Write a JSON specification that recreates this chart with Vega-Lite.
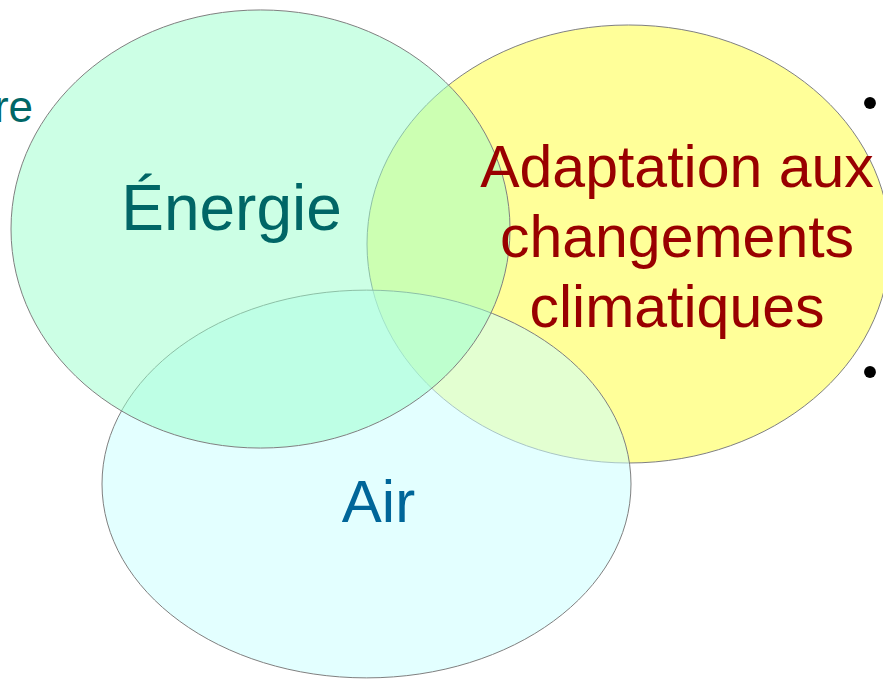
{
  "$schema": "https://vega.github.io/schema/vega-lite/v6.json",
  "width": 883,
  "height": 680,
  "autosize": {"type": "none"},
  "padding": 0,
  "background": "white",
  "config": {"view": {"stroke": null}},
  "datasets": {
    "sets": [
      {"set": "Adaptation", "cx": 628.5, "cy": 244},
      {"set": "Air", "cx": 366.5, "cy": 484},
      {"set": "Énergie", "cx": 260.5, "cy": 229}
    ],
    "labels": [
      {"set": "Énergie", "label": "Énergie", "x": 231.5, "y": 230},
      {"set": "Air", "label": "Air", "x": 378.5, "y": 522},
      {"set": "Adaptation", "label": "Adaptation aux\nchangements\nclimatiques", "x": 677, "y": 187}
    ],
    "fragment": [
      {"set": "Énergie", "label": "re", "x": 33, "y": 122}
    ],
    "bullets": [
      {"x": 870, "y": 103},
      {"x": 870, "y": 372}
    ]
  },
  "encoding": {
    "x": {"field": "cx", "type": "quantitative", "scale": {"domain": [0, 883], "nice": false, "zero": false}, "axis": null},
    "y": {"field": "cy", "type": "quantitative", "scale": {"domain": [0, 680], "nice": false, "zero": false, "reverse": true}, "axis": null}
  },
  "layer": [
    {
      "data": {"name": "sets"},
      "transform": [{"filter": "datum.set === 'Adaptation'"}],
      "mark": {"type": "point", "filled": true, "fill": "#ffff00", "fillOpacity": 0.4, "stroke": "#808080", "strokeWidth": 1, "strokeOpacity": 1, "opacity": 1, "size": 273529,
        "shape": "M 1 0 C 1 0.4625 0.5523 0.8375 0 0.8375 C -0.5523 0.8375 -1 0.4625 -1 0 C -1 -0.4625 -0.5523 -0.8375 0 -0.8375 C 0.5523 -0.8375 1 -0.4625 1 0 Z"}
    },
    {
      "data": {"name": "sets"},
      "transform": [{"filter": "datum.set === 'Air'"}],
      "mark": {"type": "point", "filled": true, "fill": "#ccffff", "fillOpacity": 0.55, "stroke": "#808080", "strokeWidth": 1, "strokeOpacity": 1, "opacity": 1, "size": 279841,
        "shape": "M 1 0 C 1 0.4048 0.5523 0.733 0 0.733 C -0.5523 0.733 -1 0.4048 -1 0 C -1 -0.4048 -0.5523 -0.733 0 -0.733 C 0.5523 -0.733 1 -0.4048 1 0 Z"}
    },
    {
      "data": {"name": "sets"},
      "transform": [{"filter": "datum.set === 'Énergie'"}],
      "mark": {"type": "point", "filled": true, "fill": "#99ffcc", "fillOpacity": 0.5, "stroke": "#808080", "strokeWidth": 1, "strokeOpacity": 1, "opacity": 1, "size": 249001,
        "shape": "M 1 0 C 1 0.4849 0.5523 0.878 0 0.878 C -0.5523 0.878 -1 0.4849 -1 0 C -1 -0.4849 -0.5523 -0.878 0 -0.878 C 0.5523 -0.878 1 -0.4849 1 0 Z"}
    },
    {
      "data": {"name": "labels"},
      "mark": {"type": "text", "font": "Liberation Sans", "fontSize": 60, "align": "center", "baseline": "alphabetic", "lineBreak": "\n", "lineHeight": 70},
      "encoding": {
        "x": {"field": "x", "type": "quantitative"},
        "y": {"field": "y", "type": "quantitative"},
        "text": {"field": "label"},
        "color": {"field": "set", "type": "nominal", "scale": {"domain": ["Énergie", "Air", "Adaptation"], "range": ["#006666", "#006699", "#990000"]}, "legend": null},
        "size": {"field": "set", "type": "nominal", "scale": {"type": "ordinal", "domain": ["Énergie", "Air", "Adaptation"], "range": [64, 60, 59]}, "legend": null}
      }
    },
    {
      "data": {"name": "fragment"},
      "mark": {"type": "text", "font": "Liberation Sans", "fontSize": 44, "align": "right", "baseline": "alphabetic", "color": "#006666"},
      "encoding": {
        "x": {"field": "x", "type": "quantitative"},
        "y": {"field": "y", "type": "quantitative"},
        "text": {"field": "label"}
      }
    },
    {
      "data": {"name": "bullets"},
      "mark": {"type": "point", "shape": "circle", "filled": true, "color": "#000000", "opacity": 1, "size": 140},
      "encoding": {
        "x": {"field": "x", "type": "quantitative"},
        "y": {"field": "y", "type": "quantitative"}
      }
    }
  ]
}
